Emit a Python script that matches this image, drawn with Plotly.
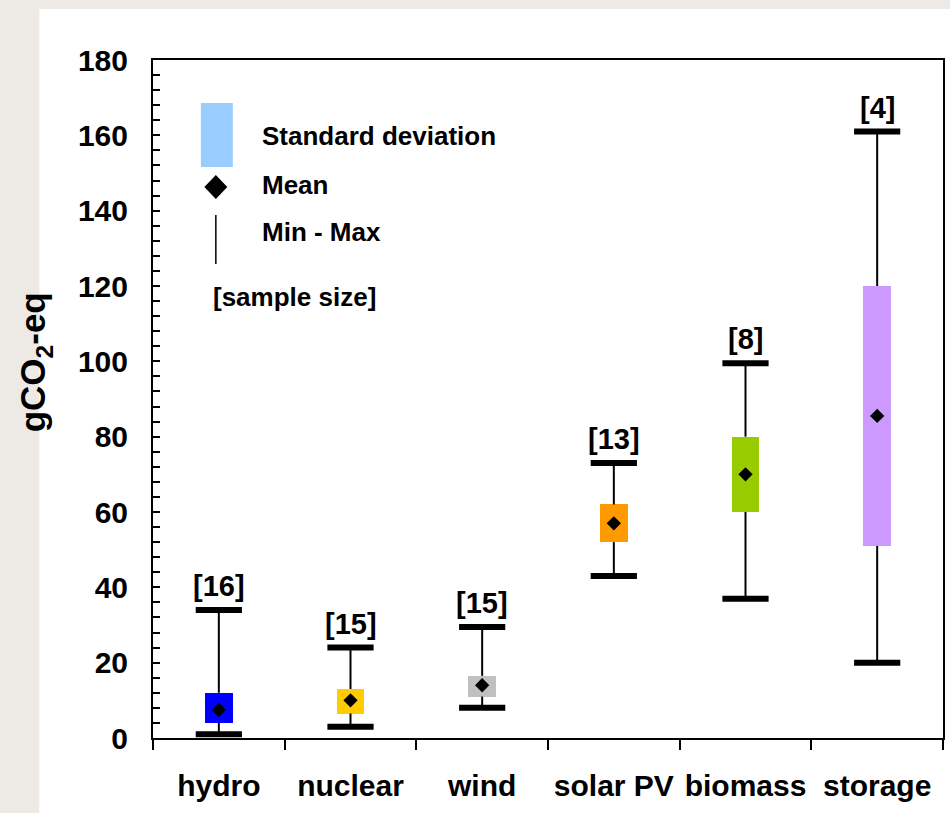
import plotly.graph_objects as go

categories = ["hydro", "nuclear", "wind", "solar PV", "biomass", "storage"]
mean_vals = [7.5, 10, 14, 57, 70, 85.5]
sd_low = [4, 6.5, 11, 52, 60, 51]
sd_high = [12, 13, 16.5, 62, 80, 120]
min_vals = [1, 3, 8, 43, 37, 20]
max_vals = [34, 24, 29.5, 73, 99.5, 161]
sample_sizes = [16, 15, 15, 13, 8, 4]
box_colors = ["#0000FF", "#FFCC00", "#C0C0C0", "#FF9900", "#99CC00", "#CC99FF"]
y_ticks = [0, 20, 40, 60, 80, 100, 120, 140, 160, 180]

FONT = "Liberation Sans, Arial, sans-serif"

fig = go.Figure()

# whisker segments (outside the box)
wx, wy = [], []
for c, lo, hi, a, b in zip(categories, min_vals, max_vals, sd_low, sd_high):
    wx += [c, c, None, c, c, None]
    wy += [lo, a, None, b, hi, None]
fig.add_trace(go.Scatter(x=wx, y=wy, mode="lines",
                         line=dict(color="black", width=2),
                         hoverinfo="skip", showlegend=False))

# standard deviation boxes
fig.add_trace(go.Bar(x=categories,
                     y=[h - l for h, l in zip(sd_high, sd_low)],
                     base=sd_low, width=0.21,
                     marker=dict(color=box_colors, line=dict(width=0)),
                     showlegend=False))

# caps
fig.add_trace(go.Scatter(x=categories + categories, y=min_vals + max_vals,
                         mode="markers",
                         marker=dict(symbol="line-ew", size=33,
                                     line=dict(color="black", width=6)),
                         hoverinfo="skip", showlegend=False))

# means
fig.add_trace(go.Scatter(x=categories, y=mean_vals, mode="markers",
                         marker=dict(symbol="diamond", size=11, color="black"),
                         showlegend=False))

# sample size labels
for c, hi, n in zip(categories, max_vals, sample_sizes):
    fig.add_annotation(x=c, y=hi, text=f"<b>[{n}]</b>", showarrow=False,
                       yanchor="middle", yshift=24,
                       font=dict(family=FONT, size=29, color="black"))

# plot-area pixel geometry helpers for legend
L, R, T, B = 153, 945, 60, 738
def px(x):
    return (x - L) / (R - L)
def py(y):
    return (B - y) / (B - T)

shapes = []
# page background: white sheet on grey
shapes.append(dict(type="rect", xref="paper", yref="paper", layer="below",
                   x0=px(39), x1=px(955), y0=py(9), y1=py(820),
                   fillcolor="white", line=dict(width=0)))
# legend: std box
shapes.append(dict(type="rect", xref="paper", yref="paper",
                   x0=px(201), x1=px(233), y0=py(167), y1=py(103),
                   fillcolor="#99CCFF", line=dict(width=0)))
# legend: diamond
cx, cy, hw, hh = 216, 187, 11.5, 12
shapes.append(dict(type="path", xref="paper", yref="paper",
                   path=f"M {px(cx-hw)} {py(cy)} L {px(cx)} {py(cy-hh)} "
                        f"L {px(cx+hw)} {py(cy)} L {px(cx)} {py(cy+hh)} Z",
                   fillcolor="black", line=dict(width=0)))
# legend: line
shapes.append(dict(type="line", xref="paper", yref="paper",
                   x0=px(216), x1=px(216), y0=py(215), y1=py(264),
                   line=dict(color="black", width=1.5)))
fig.update_layout(shapes=shapes)

legend_texts = [("Standard deviation", 260, 136), ("Mean", 260, 185),
                ("Min - Max", 260, 232), ("[sample size]", 211, 297)]
for t, x, y in legend_texts:
    fig.add_annotation(xref="paper", yref="paper", x=px(x), y=py(y),
                       text=f"<b>{t}</b>", showarrow=False,
                       xanchor="left", yanchor="middle",
                       font=dict(family=FONT, size=26, color="black"))

# y-axis title
fig.add_annotation(xref="paper", yref="paper", x=px(35), y=py(362),
                   text="<b>gCO<sub>2</sub>-eq</b>", showarrow=False,
                   textangle=-90, xanchor="center", yanchor="middle",
                   font=dict(family=FONT, size=35, color="black"))

fig.update_layout(
    width=950, height=813, autosize=False,
    margin=dict(l=L, r=950 - R, t=T, b=813 - B),
    paper_bgcolor="#EDEAE6", plot_bgcolor="white",
    bargap=0,
    font=dict(family=FONT, color="black"),
)
fig.update_xaxes(type="category", categoryorder="array", categoryarray=categories,
                 tickson="boundaries", ticks="outside", ticklen=10, tickwidth=1.5,
                 tickcolor="black", showline=True, linecolor="black", linewidth=2,
                 mirror=True, showgrid=False, zeroline=False,
                 tickfont=dict(family=FONT, size=30, weight="bold"),
                 ticklabelstandoff=20)
fig.update_yaxes(range=[0, 180], tickvals=y_ticks, ticks="inside", ticklen=7,
                 tickwidth=1.5, tickcolor="black",
                 minor=dict(dtick=4, tick0=0, ticks="inside", ticklen=7,
                            tickwidth=1.5, tickcolor="black", showgrid=False),
                 showline=True, linecolor="black", linewidth=2, mirror=True,
                 showgrid=False, zeroline=False,
                 tickfont=dict(family=FONT, size=30, weight="bold"),
                 ticklabelstandoff=17)

fig.write_html("out.html")
